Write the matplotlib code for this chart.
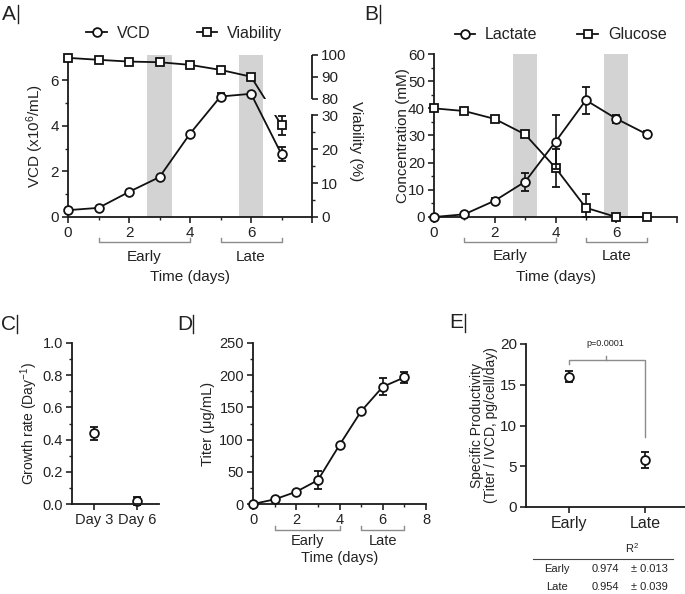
import numpy as np
import matplotlib
matplotlib.use("Agg")
import matplotlib.pyplot as plt
from matplotlib.patches import Rectangle
from matplotlib.lines import Line2D

plt.rcParams['font.family'] = ['Liberation Sans', 'DejaVu Sans']
plt.rcParams['text.color'] = '#222222'
plt.rcParams['axes.labelcolor'] = '#222222'
plt.rcParams['xtick.color'] = '#222222'
plt.rcParams['ytick.color'] = '#222222'
plt.rcParams['axes.edgecolor'] = '#1a1a1a'
plt.rcParams['mathtext.default'] = 'regular'

# ---------------- data ----------------
days = [0, 1, 2, 3, 4, 5, 6, 7]
vcd = [0.3, 0.4, 1.1, 1.75, 3.65, 5.28, 5.4, 2.75]
vcd_err = [0.03, 0.03, 0.05, 0.05, 0.05, 0.15, 0.05, 0.3]
viability = [98.7, 97.8, 97.0, 96.7, 95.5, 93.2, 90.1, 27.0]
viability_err = [0.2, 0.2, 0.2, 0.2, 0.2, 0.2, 0.3, 2.8]

lactate = [0.0, 1.0, 6.0, 13.0, 27.7, 43.0, 36.2, 30.5]
lactate_err = [0.2, 0.3, 1.0, 3.3, 10.0, 5.0, 1.5, 1.0]
glucose = [40.0, 39.0, 36.1, 30.4, 18.1, 3.4, 0.0, 0.0]
glucose_err_lo = [0.3, 0.3, 0.5, 0.8, 7.0, 3.4, 0.0, 0.0]
glucose_err_hi = [0.3, 0.3, 0.5, 0.8, 7.0, 5.0, 0.0, 0.0]

growth_labels = ['Day 3', 'Day 6']
growth_rate = [0.44, 0.02]
growth_err = [0.04, 0.025]

titer = [0.0, 7.2, 19.0, 37.0, 91.6, 144.0, 182.0, 196.6]
titer_err = [0.5, 1.0, 1.0, 13.5, 1.5, 1.5, 13.5, 9.0]

qp_labels = ['Early', 'Late']
qp = [16.0, 5.8]
qp_err = [0.7, 1.0]
p_text = 'p=0.0001'

r2_rows = ['Early', 'Late']
r2_vals = ['0.974', '0.954']
r2_sd = ['± 0.013', '± 0.039']

shade_ranges = [(2.6, 3.4), (5.6, 6.4)]
phase_names = ['Early', 'Late']
phase_ranges = [(1, 4), (5, 7)]

# ---------------- style helpers ----------------
W, H = 685, 594
fig = plt.figure(figsize=(W / 100, H / 100), dpi=100)
LC = '#111111'
GRAY = '#8c8c8c'
SHADE = '#d3d3d3'
MS = 6.3


def px_axes(l, r, b, t):
    return fig.add_axes([l / W, 1 - b / H, (r - l) / W, (b - t) / H])


def style(ax, fs=11):
    for s in ['top', 'right']:
        ax.spines[s].set_visible(False)
    for s in ['left', 'bottom']:
        ax.spines[s].set_linewidth(1.3)
    ax.tick_params(which='major', direction='out', length=4.5, width=1.2, labelsize=fs, pad=2)
    ax.tick_params(which='minor', direction='out', length=2.5, width=1.0)


def bracket(ax, yb, yl, fs=11):
    tr = ax.get_xaxis_transform()
    for name, (x0, x1) in zip(phase_names, phase_ranges):
        ax.plot([x0, x0, x1, x1], [yb + 0.025, yb, yb, yb + 0.025], transform=tr,
                clip_on=False, color=GRAY, lw=1.0)
        ax.text((x0 + x1) / 2, yl, name, transform=tr, ha='center', va='center', fontsize=fs)


mk = dict(mfc='white', mec=LC, mew=1.3, color=LC, lw=1.3, capsize=3, elinewidth=1.2,
          capthick=1.2, clip_on=False)

# ---------------- Panel A ----------------
axA = px_axes(68, 312, 217, 55)
style(axA)
for x0, x1 in shade_ranges:
    axA.axvspan(x0, x1, color=SHADE, lw=0, zorder=0)
axA.errorbar(days, vcd, yerr=vcd_err, marker='o', ms=MS, zorder=3, **mk)
axA.set_xlim(0, 8)
axA.set_ylim(0, 7.1)
axA.set_xticks([0, 2, 4, 6, 8])
axA.set_xticklabels(['0', '2', '4', '6', ''])
axA.set_xticks([1, 3, 5, 7], minor=True)
axA.set_yticks([0, 2, 4, 6])
axA.set_yticks([1, 3, 5], minor=True)
axA.set_ylabel('VCD (x10$^{6}$/mL)', fontsize=11)
axA.yaxis.set_label_coords(-0.09, 0.5)
axA.set_xlabel('Time (days)', fontsize=11)
axA.xaxis.set_label_coords(0.5, -0.33)
bracket(axA, -0.156, -0.245)

bp = [0, 30, 80, 100]
bu = [0, 4.47, 5.18, 7.1]


def fwd(v):
    v = np.asarray(v, float)
    return np.where(v <= 30, v * bu[1] / 30,
                    np.where(v <= 80, bu[1] + (v - 30) * (bu[2] - bu[1]) / 50,
                             bu[2] + (v - 80) * (bu[3] - bu[2]) / 20))


def inv(u):
    u = np.asarray(u, float)
    return np.where(u <= bu[1], u * 30 / bu[1],
                    np.where(u <= bu[2], 30 + (u - bu[1]) * 50 / (bu[2] - bu[1]),
                             80 + (u - bu[2]) * 20 / (bu[3] - bu[2])))


axV = axA.twinx()
axV.set_yscale('function', functions=(fwd, inv))
axV.set_ylim(0, 100)
for s in ['top', 'left', 'bottom']:
    axV.spines[s].set_visible(False)
axV.spines['right'].set_linewidth(1.3)
axV.spines['right'].set_bounds(0, 30)
axV.plot([1, 1], [80, 100], transform=axV.get_yaxis_transform(), clip_on=False,
         color='#1a1a1a', lw=1.3, solid_capstyle='butt')
axV.set_yticks([0, 10, 20, 30, 80, 90, 100])
axV.set_yticks([5, 15, 25], minor=True)
axV.tick_params(which='major', direction='out', length=4.5, width=1.2, labelsize=11, pad=2)
axV.tick_params(which='minor', direction='out', length=2.5, width=1.0)
# viability line, broken across the axis gap
for lo, hi in [(80, 105), (-5, 30)]:
    ln, = axV.plot(days, viability, color=LC, lw=1.3, zorder=2)
    clip = Rectangle((-1, lo), 10, hi - lo, transform=axV.transData)
    ln.set_clip_path(clip)
axV.errorbar(days, viability, yerr=viability_err, marker='s', ms=MS - 0.3, ls='none',
             zorder=4, mfc='white', mec=LC, mew=1.3, ecolor=LC, capsize=3,
             elinewidth=1.2, capthick=1.2, clip_on=False)
fig.text(356 / W, 1 - 141 / H, 'Viability (%)', rotation=270, ha='center', va='center',
         fontsize=11)

handles = [Line2D([], [], color=LC, lw=1.3, marker='o', ms=MS, mfc='white', mec=LC, mew=1.3),
           Line2D([], [], color=LC, lw=1.3, marker='s', ms=MS - 0.3, mfc='white', mec=LC, mew=1.3)]
axA.legend(handles, ['VCD', 'Viability'], ncol=2, frameon=False, fontsize=11.5,
           loc='center left', bbox_to_anchor=(0.075, 1.135), borderpad=0, borderaxespad=0,
           handlelength=1.3, handletextpad=0.6, columnspacing=2.9)

# ---------------- Panel B ----------------
axB = px_axes(434, 677, 217, 54)
style(axB)
for x0, x1 in shade_ranges:
    axB.axvspan(x0, x1, color=SHADE, lw=0, zorder=0)
axB.errorbar(days, glucose, yerr=[glucose_err_lo, glucose_err_hi], marker='s', ms=MS - 0.3,
             zorder=3, **mk)
axB.errorbar(days, lactate, yerr=lactate_err, marker='o', ms=MS, zorder=4, **mk)
axB.set_xlim(0, 8)
axB.set_ylim(0, 60)
axB.set_xticks([0, 2, 4, 6, 8])
axB.set_xticklabels(['0', '2', '4', '6', ''])
axB.set_xticks([1, 3, 5, 7], minor=True)
axB.set_yticks(range(0, 61, 10))
axB.set_yticks(range(5, 60, 10), minor=True)
axB.set_ylabel('Concentration (mM)', fontsize=11)
axB.yaxis.set_label_coords(-0.10, 0.5)
axB.set_xlabel('Time (days)', fontsize=11)
axB.xaxis.set_label_coords(0.5, -0.325)
bracket(axB, -0.153, -0.24)
axB.legend(handles, ['Lactate', 'Glucose'], ncol=2, frameon=False, fontsize=11.5,
           loc='center left', bbox_to_anchor=(0.085, 1.117), borderpad=0, borderaxespad=0,
           handlelength=1.3, handletextpad=0.6, columnspacing=2.5)

# ---------------- Panel C ----------------
axC = px_axes(72, 159, 504, 343)
style(axC, 10.5)
axC.errorbar([0, 1], growth_rate, yerr=growth_err, marker='o', ms=MS, ls='none', **mk)
axC.set_xlim(-0.5, 1.5)
axC.set_xticks([0, 1])
axC.set_xticklabels(growth_labels)
axC.set_ylim(0, 1.0)
axC.set_yticks(np.arange(0, 1.01, 0.2))
axC.set_yticklabels(['0.0', '0.2', '0.4', '0.6', '0.8', '1.0'])
axC.set_yticks(np.arange(0.1, 1.0, 0.2), minor=True)
axC.set_ylabel('Growth rate (Day$^{-1}$)', fontsize=10)
axC.yaxis.set_label_coords(-0.365, 0.5)

# ---------------- Panel D ----------------
axD = px_axes(253, 426, 504, 343)
style(axD, 10.5)
axD.errorbar(days, titer, yerr=titer_err, marker='o', ms=MS, zorder=3, **mk)
axD.set_xlim(0, 8)
axD.set_ylim(0, 250)
axD.set_xticks([0, 2, 4, 6, 8])
axD.set_xticks([1, 3, 5, 7], minor=True)
axD.set_yticks(range(0, 251, 50))
axD.set_yticks(range(25, 250, 50), minor=True)
axD.set_ylabel('Titer (μg/mL)', fontsize=10.5)
axD.yaxis.set_label_coords(-0.22, 0.5)
axD.set_xlabel('Time (days)', fontsize=10.5)
axD.xaxis.set_label_coords(0.5, -0.29)
bracket(axD, -0.161, -0.232, fs=10.5)

# ---------------- Panel E ----------------
axE = px_axes(526, 685, 507, 344)
style(axE, 11)
axE.errorbar([0, 1], qp, yerr=qp_err, marker='o', ms=MS, ls='none', **mk)
axE.set_xlim(-0.57, 1.53)
axE.set_xticks([0, 1])
axE.set_xticklabels(qp_labels, fontsize=11.5)
axE.set_ylim(0, 20)
axE.set_yticks(range(0, 21, 5))
axE.set_ylabel('Specific Productivity\n(Titer / IVCD, pg/cell/day)', fontsize=10,
               linespacing=1.0)
axE.yaxis.set_label_coords(-0.175, 0.5)
axE.plot([0, 0, 1, 1], [17.6, 18.0, 18.0, 8.6], color=GRAY, lw=1.0, clip_on=False)
axE.plot([0.48, 0.48], [18.0, 18.5], color=GRAY, lw=1.0, clip_on=False)
axE.text(0.48, 20.0, p_text, ha='center', va='center', fontsize=6.5, clip_on=False)

# table
fig.text(632 / W, 1 - 548 / H, 'R$^2$', ha='center', va='center', fontsize=8)
fig.add_artist(Line2D([533 / W, 673 / W], [1 - 559 / H, 1 - 559 / H], color='#444444', lw=0.8))
for i, (r, v, s) in enumerate(zip(r2_rows, r2_vals, r2_sd)):
    y = 1 - (569 + 18 * i) / H
    fig.text(557 / W, y, r, ha='center', va='center', fontsize=8)
    fig.text(605 / W, y, v, ha='center', va='center', fontsize=8)
    fig.text(649 / W, y, s, ha='center', va='center', fontsize=8)

# panel letters
for lab, x, y in [('A', 2, 14), ('B', 364, 14), ('C', 1, 324), ('D', 177, 324), ('E', 449, 323)]:
    fig.text(x / W, 1 - y / H, lab, ha='left', va='center', fontsize=15)
    fig.add_artist(Line2D([(x + 16) / W] * 2, [1 - (y - 9) / H, 1 - (y + 9) / H],
                          color='#222222', lw=1.0))

fig.savefig('out.png', dpi=100)
